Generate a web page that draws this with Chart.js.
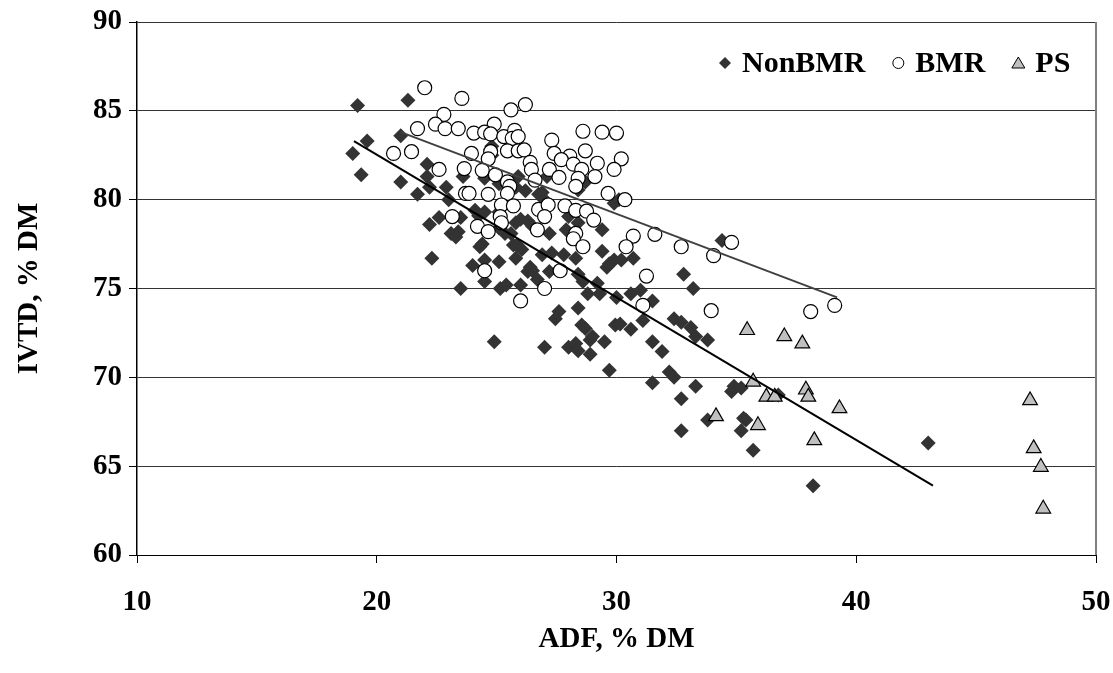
<!DOCTYPE html>
<html>
<head>
<meta charset="utf-8">
<script src="https://cdn.jsdelivr.net/npm/chart.js@4.4.1/dist/chart.umd.min.js"></script>
<style>
  html, body { margin: 0; padding: 0; background: #fff; }
</style>
</head>
<body>
<canvas id="ivtd-chart" width="1113" height="673"></canvas>
<script>
// ADF (x) and IVTD (y), % DM
const nonBmrAdf = [19.2, 21.3, 19.6, 19.0, 19.35, 21.0, 21.0, 21.7, 22.1, 22.1, 22.2, 22.9, 23.0, 23.6, 24.1, 22.6, 22.2, 23.5, 23.1, 23.4,
  22.3, 24.0, 23.5, 24.4, 24.5, 24.5, 25.1, 25.7, 25.8, 26.4, 26.3, 26.9, 27.3, 27.2, 27.8, 28.3, 28.4, 28.6, 29.2, 29.4,
  29.6, 29.9, 25.15, 26.0, 26.7, 28.8, 29.3, 30.0, 27.6, 27.45, 28.4, 28.55, 28.7, 29.95, 24.9, 27.0, 28.0, 28.3, 28.4, 28.9,
  29.0, 29.5, 28.9, 29.7, 30.2, 30.7, 32.8, 33.2, 30.6, 31.0, 31.5, 30.15, 30.6, 31.1, 32.4, 32.7, 33.1, 33.3, 33.8, 31.5,
  31.9, 32.2, 32.4, 31.5, 33.3, 32.7, 34.9, 35.2, 34.8, 33.8, 35.3, 35.4, 35.2, 32.7, 34.4, 36.75, 35.7, 38.2, 43.0, 27.2,
  27.9, 29.4, 29.7, 23.3, 24.25, 25.1, 25.35, 25.8, 26.0, 26.3, 26.5, 25.85, 26.05, 26.5, 25.4, 24.8, 24.8, 24.5, 25.1, 25.9,
  25.8, 26.2, 26.75, 27.0, 27.1, 28.7, 28.4, 29.9, 30.1, 26.9, 28.0, 28.4, 24.5, 25.6, 25.1, 24.3];
const nonBmrIvtd = [85.3, 85.6, 83.3, 82.6, 81.4, 83.6, 81.0, 80.3, 82.0, 81.3, 80.7, 80.7, 80.0, 81.3, 79.4, 79.0, 78.6, 79.0, 78.1, 78.2,
  76.7, 76.3, 75.0, 77.5, 76.6, 75.4, 76.5, 77.45, 76.7, 76.2, 75.95, 76.9, 77.0, 75.95, 76.9, 76.7, 75.8, 75.4, 75.3, 77.1,
  76.2, 76.6, 75.0, 75.2, 75.5, 74.7, 74.7, 74.5, 73.7, 73.3, 73.9, 72.95, 72.75, 72.95, 72.0, 71.7, 71.7, 71.9, 71.5, 72.1,
  72.3, 72.0, 71.3, 70.4, 76.6, 76.7, 75.8, 75.0, 74.7, 74.9, 74.3, 73.0, 72.7, 73.2, 73.3, 73.1, 72.8, 72.3, 72.1, 72.0,
  71.45, 70.3, 70.0, 69.7, 69.5, 68.8, 69.5, 69.4, 69.2, 67.6, 67.7, 67.6, 67.0, 67.0, 77.7, 69.0, 65.9, 63.9, 66.3, 78.1,
  78.3, 78.3, 76.4, 77.9, 79.1, 78.4, 78.1, 78.7, 78.9, 78.8, 78.5, 77.45, 77.2, 76.0, 75.2, 83.0, 82.5, 81.2, 80.9, 81.3,
  80.7, 80.5, 80.3, 80.0, 81.3, 81.0, 80.55, 79.8, 80.0, 80.4, 79.05, 78.7, 79.3, 78.1, 79.3, 77.35];

const bmrAdf = [22.0, 23.55, 22.8, 22.45, 22.85, 23.4, 21.7, 24.05, 20.7, 21.45, 22.6, 23.65, 23.95, 23.7, 23.85, 23.15, 24.2, 25.6, 26.2, 24.9,
  24.5, 24.75, 25.3, 25.75, 25.65, 25.9, 25.45, 25.9, 26.15, 24.75, 24.65, 27.3, 28.6, 29.4, 30.0, 27.4, 28.05, 28.7, 27.7, 28.2,
  29.2, 30.2, 29.9, 26.4, 26.45, 27.2, 28.55, 27.6, 28.4, 29.1, 24.4, 24.95, 25.45, 25.55, 26.6, 28.3, 24.65, 25.45, 25.2, 25.7,
  26.75, 27.15, 27.85, 28.3, 28.75, 29.65, 30.35, 25.15, 25.2, 27.0, 29.05, 26.7, 28.3, 24.65, 30.7, 31.6, 30.4, 32.7, 34.05, 34.8,
  31.25, 31.1, 33.95, 38.1, 39.1, 27.0, 27.65, 28.2, 28.6, 24.5, 26.0];
const bmrIvtd = [86.3, 85.7, 84.8, 84.25, 84.0, 84.0, 84.0, 83.75, 82.6, 82.7, 81.7, 81.75, 82.6, 80.35, 80.35, 79.05, 78.5, 85.05, 85.35, 84.25,
  83.8, 83.7, 83.55, 83.9, 83.45, 83.55, 82.75, 82.75, 82.8, 82.7, 82.3, 83.35, 83.85, 83.8, 83.75, 82.6, 82.45, 82.75, 82.25, 82.0,
  82.05, 82.3, 81.7, 82.1, 81.7, 81.7, 81.7, 81.25, 81.2, 81.3, 81.65, 81.4, 81.0, 80.75, 81.1, 80.75, 80.3, 80.35, 79.7, 79.65,
  79.45, 79.7, 79.65, 79.4, 79.35, 80.35, 80.0, 79.05, 78.7, 79.05, 78.85, 78.3, 78.1, 78.2, 77.95, 78.05, 77.35, 77.35, 76.85, 77.6,
  75.7, 74.05, 73.75, 73.7, 74.05, 75.0, 76.0, 77.8, 77.35, 76.0, 74.3];

const psAdf = [35.45, 37.0, 37.75, 35.7, 36.25, 36.6, 37.9, 38.0, 39.3, 34.15, 35.9, 38.25, 47.25, 47.4, 47.7, 47.8];
const psIvtd = [72.65, 72.3, 71.9, 69.75, 68.9, 68.9, 69.3, 68.9, 68.25, 67.8, 67.3, 66.45, 68.7, 66.0, 64.95, 62.6];

// linear trend lines (end points)
const nonBmrFitAdf = [19.05, 43.2];
const nonBmrFitIvtd = [83.3, 63.9];
const bmrFitAdf = [21.0, 39.2];
const bmrFitIvtd = [83.8, 74.5];

const seriesNames = ['NonBMR', 'BMR', 'PS'];
const xTicks = [10, 20, 30, 40, 50];
const yTicks = [60, 65, 70, 75, 80, 85, 90];

const toPoints = (xs, ys) => xs.map((x, i) => ({ x: x, y: ys[i] }));
const fontFamily = '"Liberation Serif", "Times New Roman", serif';
const font = { family: fontFamily, size: 29, weight: 'bold' };

// legend drawn inside the plot, top right
const insideLegend = {
  id: 'insideLegend',
  afterDraw(chart) {
    const ctx = chart.ctx;
    const y = 63;
    let x = 725;
    ctx.save();
    ctx.font = 'bold 30px ' + fontFamily;
    ctx.textBaseline = 'middle';
    seriesNames.forEach((name, i) => {
      ctx.beginPath();
      ctx.lineWidth = 1;
      if (i === 0) {
        ctx.moveTo(x, y - 6); ctx.lineTo(x + 6, y); ctx.lineTo(x, y + 6); ctx.lineTo(x - 6, y);
        ctx.closePath();
        ctx.fillStyle = '#333333'; ctx.fill();
      } else if (i === 1) {
        ctx.arc(x, y, 5.5, 0, Math.PI * 2);
        ctx.fillStyle = '#fff'; ctx.fill();
        ctx.strokeStyle = '#000'; ctx.stroke();
      } else {
        ctx.moveTo(x, y - 6); ctx.lineTo(x + 6.5, y + 5); ctx.lineTo(x - 6.5, y + 5);
        ctx.closePath();
        ctx.fillStyle = '#c0c0c0'; ctx.fill();
        ctx.strokeStyle = '#000'; ctx.stroke();
      }
      x += 17;
      ctx.fillStyle = '#000';
      ctx.fillText(name, x, y + 1);
      x += ctx.measureText(name).width + 33;
    });
    ctx.restore();
  }
};

// right edge of the plot area
const plotFrame = {
  id: 'plotFrame',
  beforeDatasetsDraw(chart) {
    const a = chart.chartArea;
    const ctx = chart.ctx;
    ctx.save();
    ctx.strokeStyle = '#808080';
    ctx.lineWidth = 2;
    ctx.beginPath();
    ctx.moveTo(a.right, a.top);
    ctx.lineTo(a.right, a.bottom);
    ctx.stroke();
    ctx.restore();
  }
};

const ctx = document.getElementById('ivtd-chart');

new Chart(ctx, {
  type: 'scatter',
  data: {
    datasets: [
      {
        label: seriesNames[0],
        data: toPoints(nonBmrAdf, nonBmrIvtd),
        pointStyle: 'rectRot',
        pointRadius: 7.5,
        backgroundColor: '#333333',
        borderColor: '#333333',
        borderWidth: 0,
        order: 5
      },
      {
        label: seriesNames[1],
        data: toPoints(bmrAdf, bmrIvtd),
        pointStyle: 'circle',
        pointRadius: 7,
        backgroundColor: '#ffffff',
        borderColor: '#000000',
        borderWidth: 1.2,
        order: 4
      },
      {
        label: seriesNames[2],
        data: toPoints(psAdf, psIvtd),
        pointStyle: 'triangle',
        pointRadius: 8.5,
        backgroundColor: '#c0c0c0',
        borderColor: '#000000',
        borderWidth: 1.2,
        order: 3
      },
      {
        label: 'NonBMR fit',
        data: toPoints(nonBmrFitAdf, nonBmrFitIvtd),
        showLine: true,
        pointRadius: 0,
        borderColor: '#000000',
        borderWidth: 2,
        order: 1
      },
      {
        label: 'BMR fit',
        data: toPoints(bmrFitAdf, bmrFitIvtd),
        showLine: true,
        pointRadius: 0,
        borderColor: '#404040',
        borderWidth: 2,
        order: 2
      }
    ]
  },
  options: {
    responsive: false,
    animation: false,
    devicePixelRatio: 1,
    layout: { padding: { top: 22, right: 17, left: 0, bottom: 0 } },
    plugins: {
      legend: { display: false },
      tooltip: { enabled: false }
    },
    scales: {
      x: {
        type: 'linear',
        min: 10,
        max: 50,
        afterFit: s => { s.height = 118; s.paddingLeft = 0; s.paddingRight = 0; },
        afterBuildTicks: s => { s.ticks = xTicks.map(v => ({ value: v })); },
        ticks: { color: '#000', font: font, padding: 22 },
        grid: { drawOnChartArea: false, color: '#000', tickLength: 8 },
        border: { color: '#000', width: 1 },
        title: { display: true, text: 'ADF, % DM', color: '#000', font: font, padding: { top: 4, bottom: 16 } }
      },
      y: {
        type: 'linear',
        min: 60,
        max: 90,
        afterFit: s => { s.width = 137; s.paddingTop = 0; s.paddingBottom = 0; },
        afterBuildTicks: s => { s.ticks = yTicks.map(v => ({ value: v })); },
        ticks: { color: '#000', font: font, padding: 7 },
        grid: { color: '#333333', lineWidth: 1, tickColor: '#000', tickLength: 8 },
        border: { color: '#000', width: 1.5 },
        title: { display: true, text: 'IVTD, % DM', color: '#000', font: font, padding: { top: 12, bottom: 4 } }
      }
    }
  },
  plugins: [insideLegend, plotFrame]
});
</script>
</body>
</html>
